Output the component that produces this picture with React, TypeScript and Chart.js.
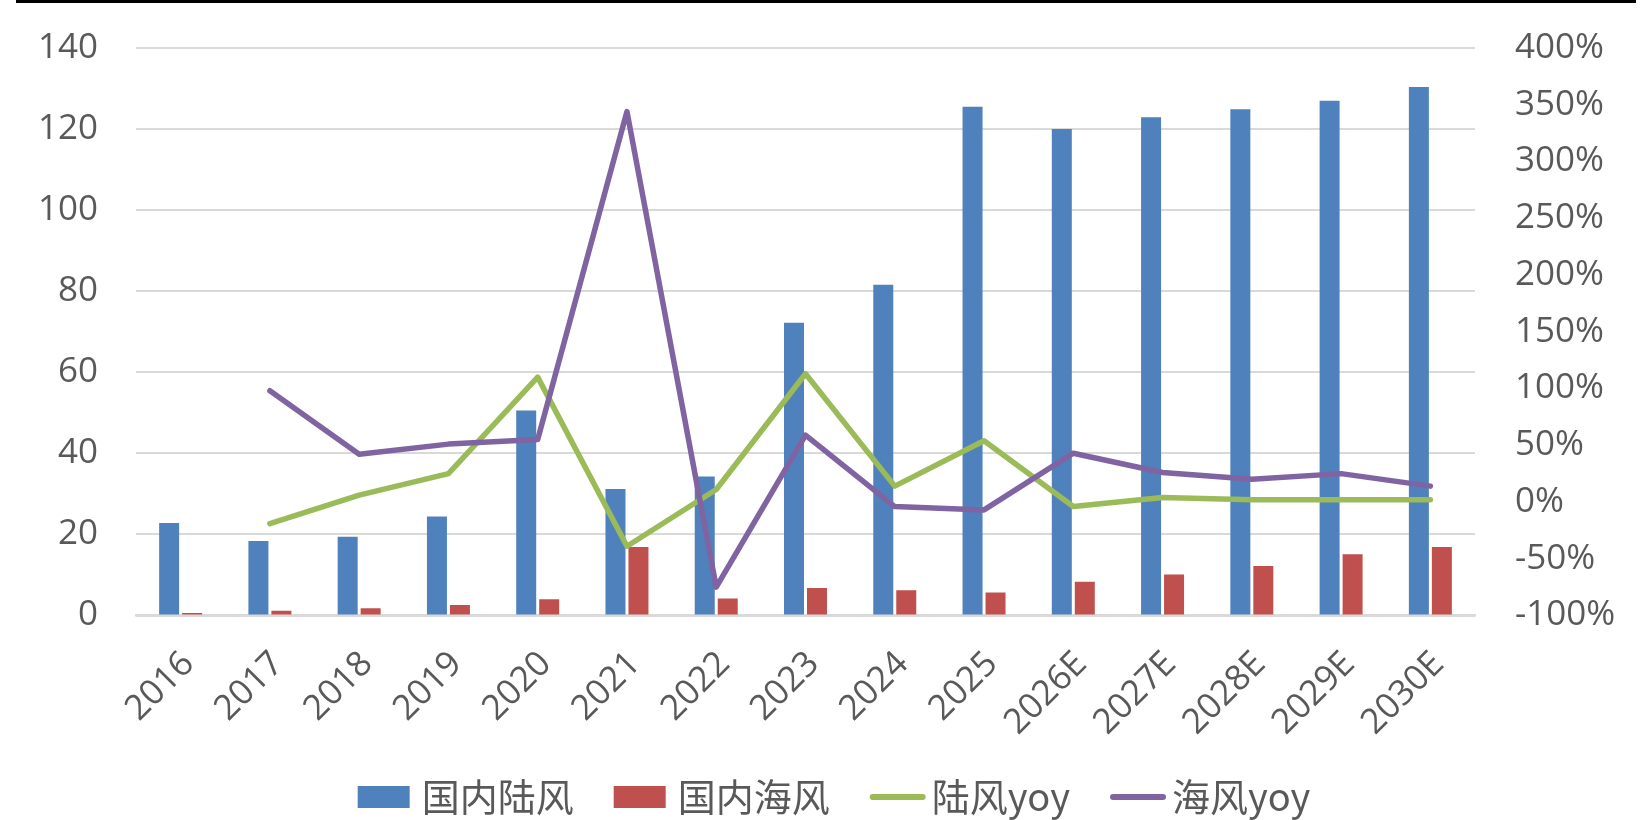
import React, { useEffect, useRef } from 'react';
import { Chart, registerables } from 'chart.js';

Chart.register(...registerables);

const categories = ['2016', '2017', '2018', '2019', '2020', '2021', '2022', '2023', '2024', '2025', '2026E', '2027E', '2028E', '2029E', '2030E'];
const onshore = [22.8, 18.4, 19.4, 24.4, 50.6, 31.2, 34.3, 72.2, 81.6, 125.5, 120.0, 122.9, 124.9, 127.0, 130.4];
const offshore = [0.6, 1.2, 1.8, 2.6, 4.0, 16.9, 4.2, 6.8, 6.2, 5.7, 8.3, 10.1, 12.2, 15.1, 16.9];
const onshoreYoy = [null, -19, 6, 25, 110, -39, 11, 113, 14, 54, -4, 4, 2, 2, 2];
const offshoreYoy = [null, 98, 42, 51, 55, 344, -75, 59, -4, -7, 43, 26, 20, 25, 14];
const seriesNames = ['国内陆风', '国内海风', '陆风yoy', '海风yoy'];

const BLUE = '#4F81BD';
const RED = '#C0504D';
const GREEN = '#9BBB59';
const PURPLE = '#8064A2';
const TEXT = '#595959';
const GRID = '#D9D9D9';
const TICK_FONT = { family: '"Open Sans", "Noto Sans", sans-serif', size: 35 };

const legendPlugin = {
  id: 'customLegend',
  afterDraw(chart: any) {
    const ctx = chart.ctx as CanvasRenderingContext2D;
    const items = chart.data.datasets.map((ds: any) => ({
      text: ds.label as string,
      color: (ds.type === 'line' ? ds.borderColor : ds.backgroundColor) as string,
      line: ds.type === 'line',
    }));
    ctx.save();
    ctx.font = '38px "Noto Sans CJK SC", sans-serif';
    ctx.textBaseline = 'middle';
    ctx.textAlign = 'left';
    const rectW = 52, rectH = 22, rectGap = 12, lineW = 56, lineGap = 6, itemGap = 40;
    const widths = items.map((it: any) => (it.line ? lineW + lineGap : rectW + rectGap) + ctx.measureText(it.text).width);
    const total = widths.reduce((a: number, b: number) => a + b, 0) + itemGap * (items.length - 1);
    let x = chart.width / 2 - total / 2 + 8;
    const cy = 797;
    items.forEach((it: any, i: number) => {
      if (it.line) {
        ctx.strokeStyle = it.color;
        ctx.lineWidth = 6;
        ctx.lineCap = 'round';
        ctx.beginPath();
        ctx.moveTo(x + 3, cy);
        ctx.lineTo(x + lineW - 3, cy);
        ctx.stroke();
        ctx.fillStyle = TEXT;
        ctx.fillText(it.text, x + lineW + lineGap, cy);
      } else {
        ctx.fillStyle = it.color;
        ctx.fillRect(x, cy - rectH / 2, rectW, rectH);
        ctx.fillStyle = TEXT;
        ctx.fillText(it.text, x + rectW + rectGap, cy);
      }
      x += widths[i] + itemGap;
    });
    ctx.restore();
  },
};

export default function App() {
  const canvasRef = useRef<HTMLCanvasElement | null>(null);

  useEffect(() => {
    if (!canvasRef.current) return;
    const chart = new Chart(canvasRef.current, {
      type: 'bar',
      data: {
        labels: categories,
        datasets: [
          {
            type: 'bar',
            label: seriesNames[0],
            data: onshore,
            backgroundColor: BLUE,
            yAxisID: 'y',
            order: 2,
            barPercentage: 0.87,
            categoryPercentage: 0.515,
          },
          {
            type: 'bar',
            label: seriesNames[1],
            data: offshore,
            backgroundColor: RED,
            yAxisID: 'y',
            order: 2,
            barPercentage: 0.87,
            categoryPercentage: 0.515,
          },
          {
            type: 'line',
            label: seriesNames[2],
            data: onshoreYoy,
            borderColor: GREEN,
            backgroundColor: GREEN,
            borderWidth: 5.5,
            borderCapStyle: 'round',
            borderJoinStyle: 'round',
            pointRadius: 0,
            tension: 0,
            yAxisID: 'y1',
            order: 1,
          },
          {
            type: 'line',
            label: seriesNames[3],
            data: offshoreYoy,
            borderColor: PURPLE,
            backgroundColor: PURPLE,
            borderWidth: 5.5,
            borderCapStyle: 'round',
            borderJoinStyle: 'round',
            pointRadius: 0,
            tension: 0,
            yAxisID: 'y1',
            order: 0,
          },
        ] as any,
      },
      options: {
        animation: false,
        responsive: false,
        maintainAspectRatio: false,
        layout: { padding: { top: 48, left: 0, right: 0, bottom: 0 } },
        plugins: {
          legend: { display: false },
          tooltip: { enabled: false },
          title: { display: false },
        },
        scales: {
          x: {
            offset: true,
            grid: { display: false, drawTicks: false },
            border: { display: true, color: GRID, width: 2.5 },
            ticks: {
              color: TEXT,
              font: TICK_FONT,
              maxRotation: 45,
              minRotation: 45,
              autoSkip: false,
              padding: 28,
              labelOffset: 8,
            },
            afterFit: (scale: any) => {
              scale.height = 820 - 615.5;
            },
          },
          y: {
            position: 'left',
            min: 0,
            max: 140,
            ticks: { stepSize: 20, color: TEXT, font: TICK_FONT, padding: 38 },
            grid: { color: GRID, lineWidth: 2, drawTicks: false },
            border: { display: false },
            afterFit: (scale: any) => {
              scale.width = 136;
              scale.paddingTop = 0;
              scale.paddingBottom = 0;
            },
          },
          y1: {
            position: 'right',
            min: -100,
            max: 400,
            ticks: {
              stepSize: 50,
              color: TEXT,
              font: TICK_FONT,
              padding: 40,
              callback: (v: any) => `${v}%`,
            },
            grid: { display: false, drawTicks: false },
            border: { display: false },
            afterFit: (scale: any) => {
              scale.width = 177;
              scale.paddingTop = 0;
              scale.paddingBottom = 0;
            },
          },
        },
      } as any,
      plugins: [legendPlugin],
    });
    return () => chart.destroy();
  }, []);

  return (
    <div style={{ position: 'fixed', left: 0, top: 0, width: 1652, height: 820, background: '#fff' }}>
      <div style={{ position: 'absolute', left: 16, top: 0, width: 1620, height: 3, background: '#000' }} />
      <canvas ref={canvasRef} width={1652} height={820} style={{ display: 'block', width: 1652, height: 820 }} />
    </div>
  );
}
